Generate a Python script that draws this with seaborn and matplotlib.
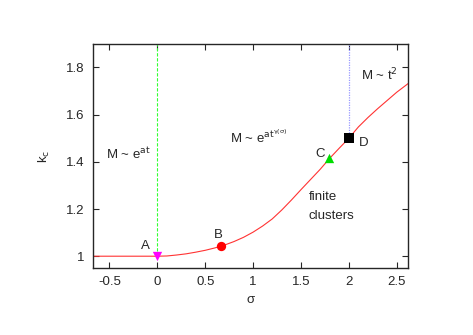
import numpy as np
import pandas as pd
import matplotlib
matplotlib.use("Agg")
import matplotlib.pyplot as plt
import seaborn as sns

# critical curve k_c(sigma)
sigma = [-0.66, -0.3, 0.0, 0.1, 0.2, 0.3, 0.4, 0.5, 0.6, 0.7, 0.8, 0.9, 1.0, 1.1, 1.2, 1.3,
         1.4, 1.5, 1.6, 1.7, 1.8, 1.9, 2.0, 2.1, 2.2, 2.3, 2.4, 2.5, 2.62]
kc = [1.0, 1.0, 1.0, 1.001, 1.005, 1.010, 1.017, 1.025, 1.035, 1.047, 1.062, 1.080, 1.102,
      1.128, 1.158, 1.196, 1.238, 1.282, 1.325, 1.368, 1.415, 1.458, 1.50, 1.548, 1.588,
      1.625, 1.66, 1.695, 1.732]

# special points
pt_names = ["A", "B", "C", "D"]
pt_sigma = [0.0, 0.66, 1.79, 2.0]
pt_kc = [1.0, 1.042, 1.415, 1.503]
pt_marker = ["v", "o", "^", "s"]
pt_color = ["magenta", "red", "#00dd00", "black"]

sns.set_style("ticks")
plt.rcParams["font.family"] = ["Liberation Sans", "DejaVu Sans"]
plt.rcParams["font.size"] = 9.5

fig = plt.figure(figsize=(4.73, 3.35), dpi=100)
ax = fig.add_axes([0.197, 0.2, 0.666, 0.669])

curve = pd.DataFrame({"sigma": sigma, "kc": kc})
sns.lineplot(data=curve, x="sigma", y="kc", color="#ff3333", lw=0.8, ax=ax)

# phase boundaries
ax.plot([0, 0], [pt_kc[0], 1.9], color="#33ff33", ls=(0, (3, 1.5)), lw=0.8)
ax.plot([2, 2], [pt_kc[3], 1.9], color="#9999ff", ls=(0, (1, 1)), lw=0.9)

for name, x, y, m, c in zip(pt_names, pt_sigma, pt_kc, pt_marker, pt_color):
    ax.scatter(x, y, marker=m, s=45, color=c, zorder=5, linewidths=0)

ax.text(-0.12, 1.045, "A", ha="center", va="center")
ax.text(0.64, 1.09, "B", ha="center", va="center")
ax.text(1.70, 1.435, "C", ha="center", va="center")
ax.text(2.15, 1.48, "D", ha="center", va="center")

ax.text(-0.3, 1.435, r"M ~ e$^{\rm at}$", ha="center", va="center")
ax.text(1.06, 1.505, r"M ~ e$^{\rm at^{\gamma(\sigma)}}$", ha="center", va="center")
ax.text(2.13, 1.77, r"M ~ t$^2$", ha="left", va="center")
ax.text(1.58, 1.25, "finite", ha="left", va="center")
ax.text(1.58, 1.17, "clusters", ha="left", va="center")

ax.set_xlim(-0.67, 2.62)
ax.set_ylim(0.95, 1.9)
ax.set_xticks([-0.5, 0, 0.5, 1, 1.5, 2, 2.5])
ax.set_xticklabels(["-0.5", "0", "0.5", "1", "1.5", "2", "2.5"])
ax.set_yticks([1, 1.2, 1.4, 1.6, 1.8])
ax.set_yticklabels(["1", "1.2", "1.4", "1.6", "1.8"])
ax.tick_params(direction="in", top=True, right=True, length=4, width=0.8, pad=6)
for s in ax.spines.values():
    s.set_linewidth(1.0)
ax.set_xlabel("σ", labelpad=4)
ax.set_ylabel(r"k$_{\rm c}$", labelpad=10)

fig.savefig("out.png", dpi=100)
